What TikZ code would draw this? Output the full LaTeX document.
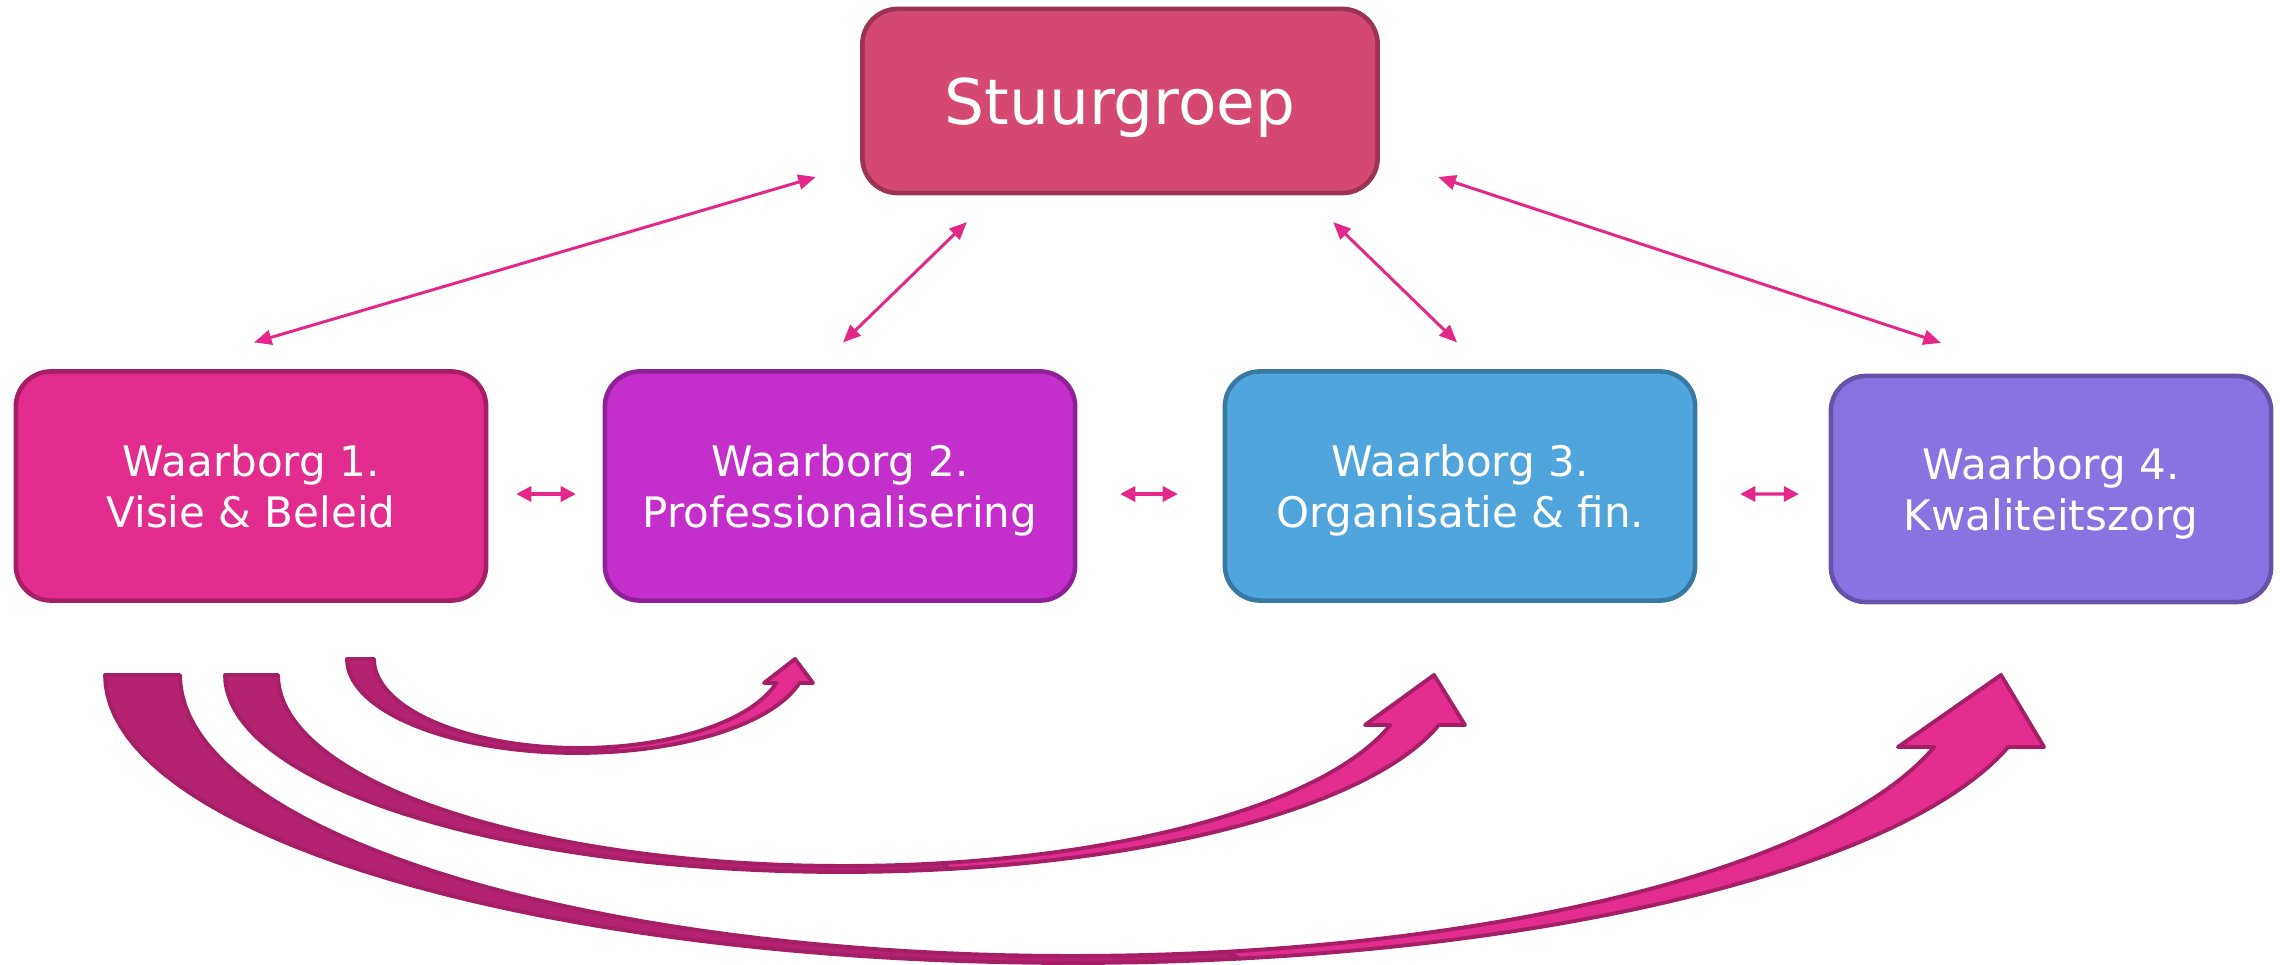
\documentclass[tikz,border=0pt]{standalone}
\usepackage{fontspec}
\setmainfont{DejaVu Sans}
\usetikzlibrary{arrows.meta}

\definecolor{stuurfill}{HTML}{D44872}
\definecolor{stuurline}{HTML}{9C3354}
\definecolor{wbonefill}{HTML}{E32D8E}
\definecolor{wboneline}{HTML}{A61E63}
\definecolor{wbtwofill}{HTML}{C42ECB}
\definecolor{wbtwoline}{HTML}{8E2197}
\definecolor{wbthreefill}{HTML}{50A6DC}
\definecolor{wbthreeline}{HTML}{3779A3}
\definecolor{wbfourfill}{HTML}{8973E0}
\definecolor{wbfourline}{HTML}{6652A8}
\definecolor{linkpink}{HTML}{E3288A}
\definecolor{bowback}{HTML}{B5226F}
\definecolor{bowfront}{HTML}{E32D8E}
\definecolor{bowline}{HTML}{A51F66}

\begin{document}
\begin{tikzpicture}[x=0.01cm, y=-0.01cm,
  box/.style={draw, line width=1.3pt, rounded corners=10pt, outer sep=0pt,
    text=white, align=center, minimum width=4.7cm, minimum height=2.29cm,
    text depth=0pt, font=\fontsize{11.95}{14.5}\selectfont},
  link/.style={linkpink, line width=0.85pt,
    {Triangle[length=5pt,width=4.2pt]}-{Triangle[length=5pt,width=4.2pt]}},
  shortlink/.style={linkpink, line width=0.9pt,
    {Triangle[length=4.3pt,width=4.3pt]}-{Triangle[length=4.3pt,width=4.3pt]}},
  backpart/.style={fill=bowback, draw=bowline, line width=1.1pt, line join=round},
  frontpart/.style={fill=bowfront, draw=bowline, line width=1.1pt, line join=round}]
\useasboundingbox (0,0) rectangle (2280,965);

\node[box, fill=stuurfill, draw=stuurline, minimum width=5.15cm, minimum height=1.84cm,
  font=\fontsize{17.9}{21}\selectfont] (stuur) at (1120,101) {Stuurgroep};

\node[box, fill=wbonefill, draw=wboneline] (wb1) at (251,486) {Waarborg 1.\\Visie \& Beleid};
\node[box, fill=wbtwofill, draw=wbtwoline] (wb2) at (840,486) {Waarborg 2.\\Professionalisering};
\node[box, fill=wbthreefill, draw=wbthreeline] (wb3) at (1460,486) {Waarborg 3.\\Organisatie \& fin.};
\node[box, fill=wbfourfill, draw=wbfourline, minimum width=4.4cm, minimum height=2.26cm]
  (wb4) at (2051,489) {Waarborg 4.\\Kwaliteitszorg};

\draw[link] ([xshift=0.03cm,yshift=0.29cm]wb1.north) -- ([xshift=-0.465cm,yshift=0.16cm]stuur.south west);
\draw[link] ([xshift=0.03cm,yshift=0.29cm]wb2.north) -- ([xshift=1.045cm,yshift=-0.29cm]stuur.south west);
\draw[link] ([xshift=-0.03cm,yshift=0.29cm]wb3.north) -- ([xshift=-0.445cm,yshift=-0.29cm]stuur.south east);
\draw[link] ([xshift=-1.1cm,yshift=0.33cm]wb4.north) -- ([xshift=0.605cm,yshift=0.16cm]stuur.south east);

\draw[shortlink] ([xshift=0.3cm,yshift=-0.08cm]wb1.east) -- ([xshift=-0.29cm,yshift=-0.08cm]wb2.west);
\draw[shortlink] ([xshift=0.45cm,yshift=-0.08cm]wb2.east) -- ([xshift=-0.47cm,yshift=-0.08cm]wb3.west);
\draw[shortlink] ([xshift=0.45cm,yshift=-0.08cm]wb3.east) -- ([xshift=-0.32cm,yshift=-0.05cm]wb4.west);

\draw[backpart] plot[domain=180:80, samples=50] ({1072+967*cos(\x)}, {675+288*sin(\x)})
  -- plot[domain=80:180, samples=50] ({1072+892*cos(\x)}, {675+281*sin(\x)}) -- cycle;
\draw[frontpart] plot[domain=80:14.48, samples=50] ({1072+967*cos(\x)}, {675+288*sin(\x)})
  -- (2044,747) -- (2001,675) -- (1898,747)
  -- plot[domain=14.85:80, samples=50] ({1072+892*cos(\x)}, {675+281*sin(\x)}) -- cycle;

\draw[backpart] plot[domain=180:80, samples=50] ({842+617*cos(\x)}, {675+197*sin(\x)})
  -- plot[domain=80:180, samples=50] ({844+566*cos(\x)}, {675+191*sin(\x)}) -- cycle;
\draw[frontpart] plot[domain=80:14.7, samples=50] ({842+617*cos(\x)}, {675+197*sin(\x)})
  -- (1465,725) -- (1434,675) -- (1365,725)
  -- plot[domain=15.18:80, samples=50] ({844+566*cos(\x)}, {675+191*sin(\x)}) -- cycle;

\draw[backpart] plot[domain=180:80, samples=40] ({577+230*cos(\x)}, {659+94*sin(\x)})
  -- plot[domain=80:180, samples=40] ({579+205*cos(\x)}, {659+89*sin(\x)}) -- cycle;
\draw[frontpart] plot[domain=80:14.8, samples=40] ({577+230*cos(\x)}, {659+94*sin(\x)})
  -- (813,683) -- (795,659) -- (764,683)
  -- plot[domain=15.6:80, samples=40] ({579+205*cos(\x)}, {659+89*sin(\x)}) -- cycle;
\end{tikzpicture}
\end{document}
